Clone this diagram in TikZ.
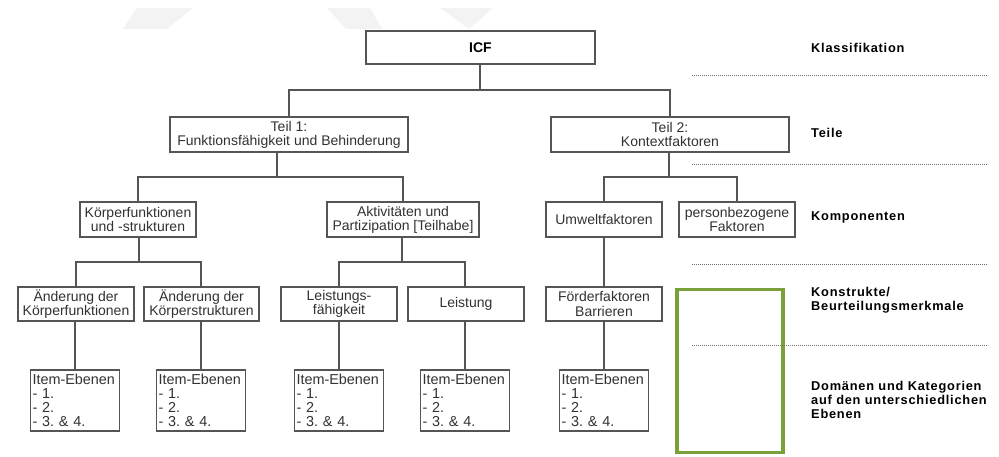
\documentclass[tikz,border=0pt]{standalone}
\usepackage{fontspec}
\setmainfont{Liberation Sans}
\usetikzlibrary{calc}
\frenchspacing
\definecolor{boxline}{RGB}{85,85,85}
\definecolor{boxtext}{RGB}{50,50,50}
\definecolor{wmark}{RGB}{243,243,243}
\definecolor{greenframe}{RGB}{122,160,60}
\definecolor{dotline}{RGB}{110,110,110}
\begin{document}
\begin{tikzpicture}[x=1pt,y=-1pt,
  box/.style={draw=boxline,line width=1.2pt,rectangle,inner sep=1pt,align=center,
    text=boxtext,font=\fontsize{14}{14.2}\selectfont,minimum height=35pt},
  itembox/.style={draw=boxline,line width=1.2pt,rectangle,inner xsep=2pt,inner ysep=1pt,align=left,
    text=boxtext,font=\fontsize{14.4}{14}\selectfont,text width=85pt,minimum height=61pt},
  conn/.style={draw=boxline,line width=1.2pt},
  lbl/.style={anchor=west,align=left,inner sep=0pt,
    font=\fontsize{12.8}{14}\selectfont\bfseries\addfontfeature{LetterSpace=6}},
  dots/.style={draw=dotline,line width=0.8pt,dash pattern=on 0.8pt off 1.2pt}]
\useasboundingbox (0,0) rectangle (999,457);
\fill[white] (0,0) rectangle (999,457);
% faint watermark shapes
\fill[wmark] (123,29) -- (167,29) -- (193,8) -- (137,8) -- cycle;
\fill[wmark] (327,8) -- (370,8) -- (382,29) -- (346,29) -- cycle;
\fill[wmark] (440,8) -- (493,8) -- (469,29) -- cycle;

% nodes
\node[box,minimum width=229pt,minimum height=33pt,font=\fontsize{14}{14}\selectfont\bfseries,text=black] (icf) at (480.5,47.5) {ICF};
\node[box,minimum width=238pt] (t1) at (289,134.5) {Teil 1:\\Funktionsfähigkeit und Behinderung};
\node[box,minimum width=238pt] (t2) at (670,134.5) {Teil 2:\\Kontextfaktoren};

\node[box,minimum width=116pt] (kf) at (138,219.5) {Körperfunktionen\\und -strukturen};
\node[box,minimum width=152pt] (ap) at (403,219.5) {Aktivitäten und\\Partizipation [Teilhabe]};
\node[box,minimum width=116pt] (uf) at (604,219.5) {Umweltfaktoren};
\node[box,minimum width=116pt] (pf) at (737,219.5) {personbezogene\\Faktoren};

\node[box,minimum width=116pt,minimum height=34pt] (akf) at (76,304) {Änderung der\\Körperfunktionen};
\node[box,minimum width=115pt,minimum height=34pt] (aks) at (201.5,304) {Änderung der\\Körperstrukturen};
\node[box,minimum width=116pt,minimum height=34pt] (lf) at (339,304) {Leistungs-\\fähigkeit};
\node[box,minimum width=116pt,minimum height=34pt] (le) at (466,304) {Leistung};
\node[box,minimum width=116pt,minimum height=34pt] (fb) at (604,304) {Förderfaktoren\\Barrieren};

\node[itembox] (i1) at (75,400.5) {Item-Ebenen\\- 1.\\- 2.\\- 3. \& 4.};
\node[itembox] (i2) at (201,400.5) {Item-Ebenen\\- 1.\\- 2.\\- 3. \& 4.};
\node[itembox] (i3) at (339,400.5) {Item-Ebenen\\- 1.\\- 2.\\- 3. \& 4.};
\node[itembox] (i4) at (465,400.5) {Item-Ebenen\\- 1.\\- 2.\\- 3. \& 4.};
\node[itembox] (i5) at (604,400.5) {Item-Ebenen\\- 1.\\- 2.\\- 3. \& 4.};

% connectors
\coordinate (b0) at (480,90);
\draw[conn] (icf.south -| b0) -- (b0);
\draw[conn] (t1.north) |- (b0) -| (t2.north);

\coordinate (b1) at (277,177);
\draw[conn] (t1.south -| b1) -- (b1);
\draw[conn] (kf.north) |- (b1) -| (ap.north);

\coordinate (b2) at (669,177);
\draw[conn] (t2.south -| b2) -- (b2);
\draw[conn] (uf.north) |- (b2) -| (pf.north);

\coordinate (b3) at (139,262);
\draw[conn] (kf.south -| b3) -- (b3);
\draw[conn] (akf.north) |- (b3) -| (aks.north -| i2.north);

\coordinate (b4) at (402,262);
\draw[conn] (ap.south -| b4) -- (b4);
\draw[conn] (lf.north) |- (b4) -| (le.north -| i4.north);

\draw[conn] (uf.south) -- (fb.north);

\draw[conn] (akf.south -| i1.north) -- (i1.north);
\draw[conn] (aks.south -| i2.north) -- (i2.north);
\draw[conn] (lf.south -| i3.north) -- (i3.north);
\draw[conn] (le.south -| i4.north) -- (i4.north);
\draw[conn] (fb.south -| i5.north) -- (i5.north);

% green frame
\node[draw=greenframe,line width=3.6pt,rectangle,minimum width=106pt,minimum height=163pt,inner sep=0pt] (gf) at (730,371) {};

% dotted separators
\foreach \y/\n in {75/d1,164/d2,264/d3,345/d4}{
  \coordinate (\n a) at (692,\y);
  \coordinate (\n b) at (988,\y);
  \draw[dots] (\n a) -- (\n b);
}

% level labels
\node[lbl] (l1) at (811,48) {Klassifikation};
\node[lbl] (l2) at (811,133) {Teile};
\node[lbl] (l3) at (811,217) {Komponenten};
\node[lbl] (l4) at (811,300) {Konstrukte/\\Beurteilungsmerkmale};
\node[lbl] (l5) at (811,400) {Domänen und Kategorien\\auf den unterschiedlichen\\Ebenen};
\end{tikzpicture}
\end{document}
